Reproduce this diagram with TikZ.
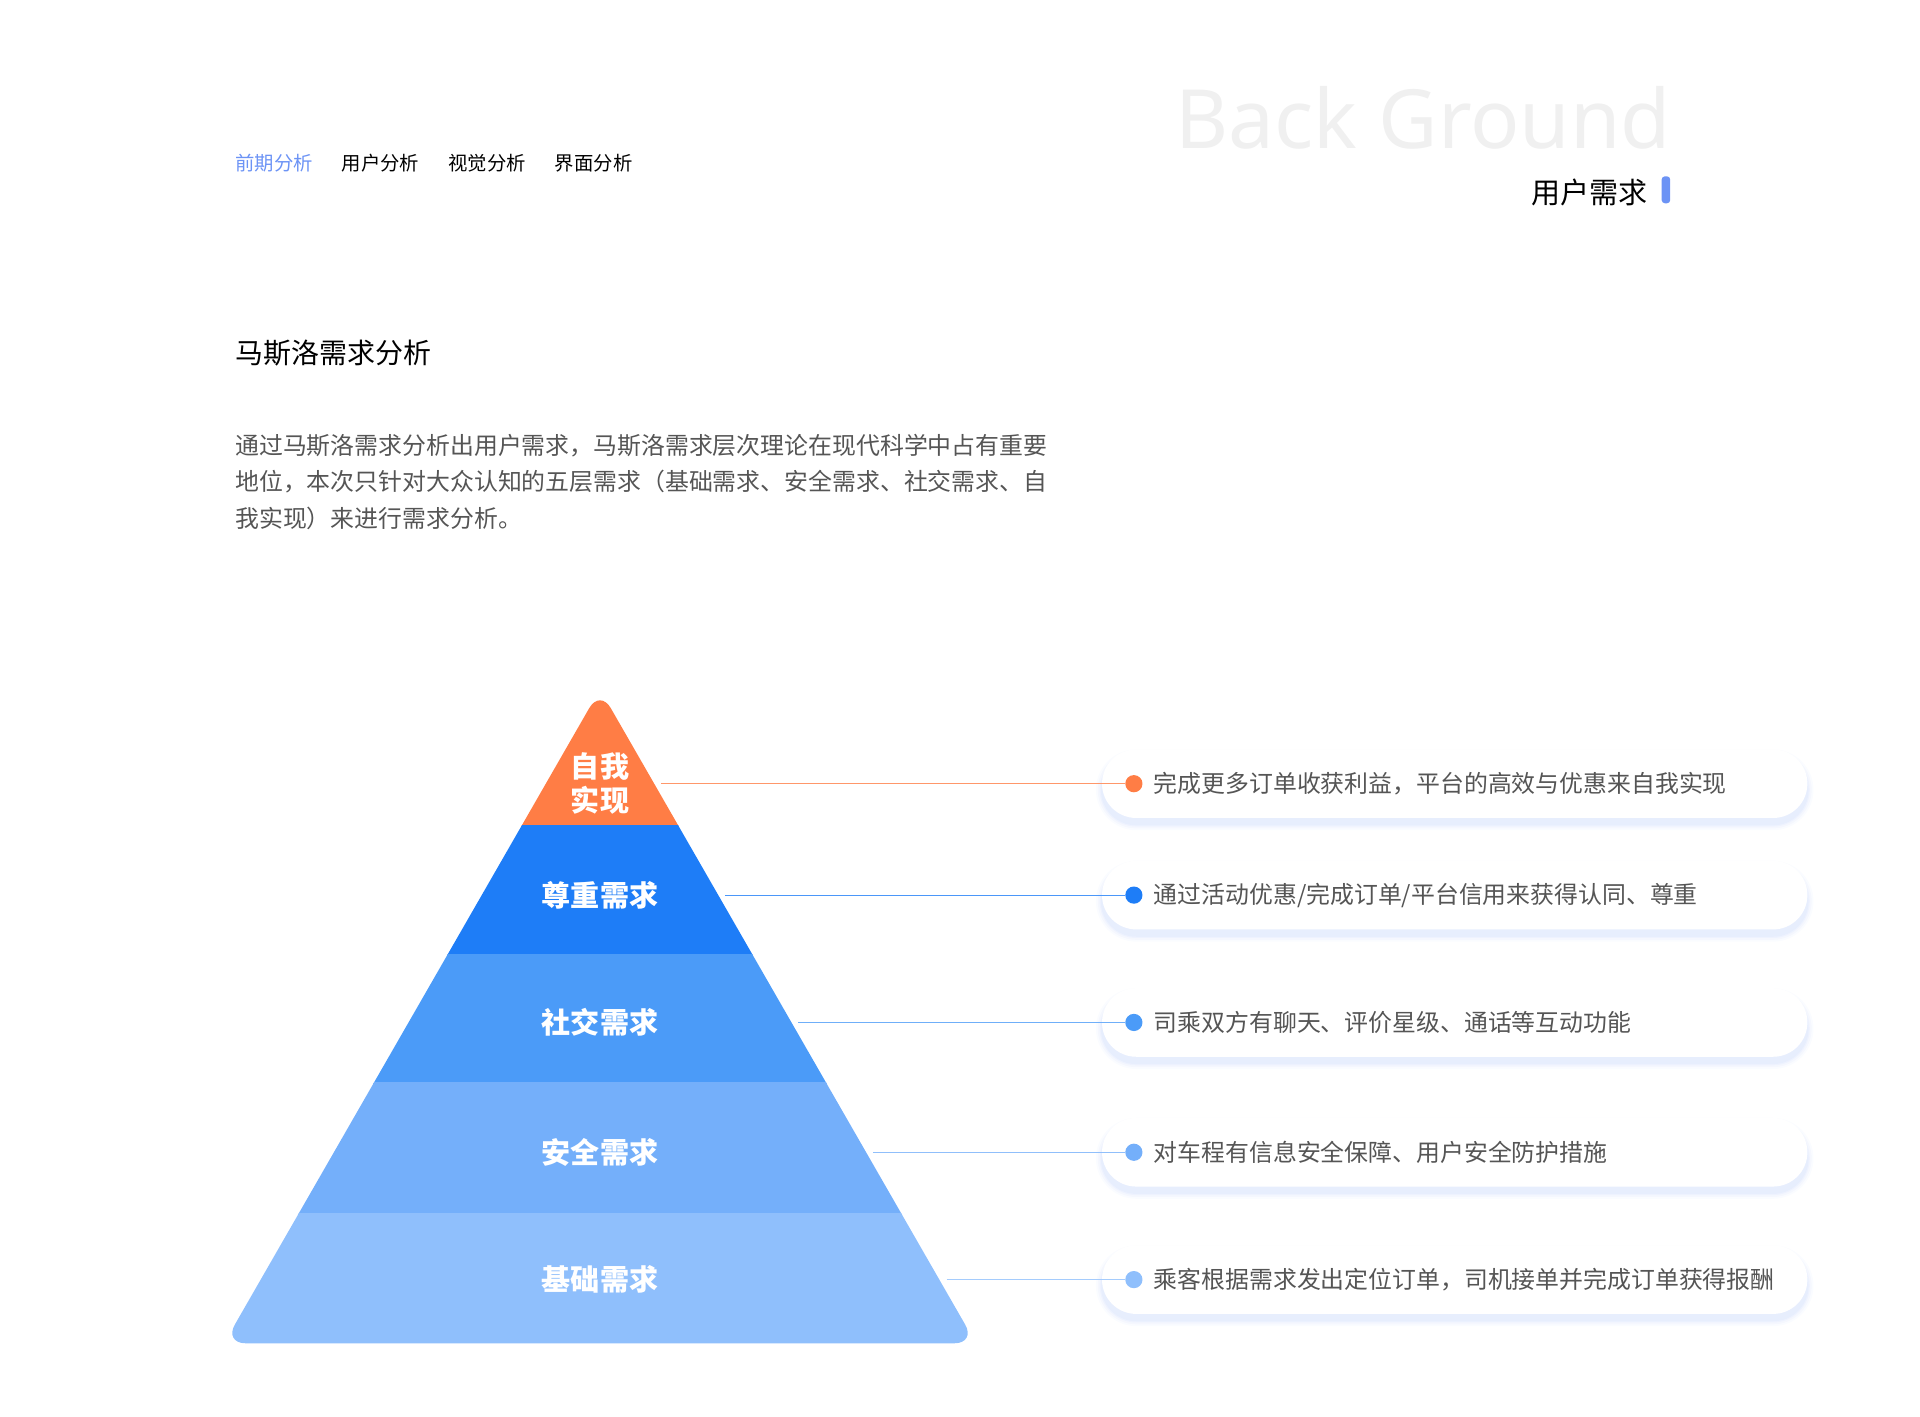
\documentclass[tikz,border=0pt]{standalone}
\usepackage{fontspec}
\setmainfont{Noto Sans CJK SC}
\newfontfamily\latinsans{Noto Sans}
\usetikzlibrary{calc}
\definecolor{accent}{HTML}{6C93F5}
\definecolor{txtgray}{HTML}{555555}
\definecolor{lvlA}{HTML}{FF7D45}
\definecolor{lvlB}{HTML}{1E7DF7}
\definecolor{lvlC}{HTML}{4B9BF8}
\definecolor{lvlD}{HTML}{74AFFA}
\definecolor{lvlE}{HTML}{8FBFFC}
\tikzset{
  navtext/.style={anchor=west, font=\fontsize{9}{11}\selectfont},
  lvltext/.style={text=white, font=\bfseries\fontsize{13.5}{16}\selectfont, align=center},
  notetext/.style={anchor=west, text=txtgray, font=\fontsize{11.1}{13}\selectfont},
}
\begin{document}
\begin{tikzpicture}[x=0.02cm, y=-0.02cm]
    % Canvas
    \useasboundingbox (0,0) rectangle (1568,1157);
    % Header
    \node[navtext, text=accent] (nav1) at (186,133) {前期分析};
    \node[navtext] (nav2) at (273,133) {用户分析};
    \node[navtext] (nav3) at (360,133) {视觉分析};
    \node[navtext] (nav4) at (447,133) {界面分析};
    \node[anchor=east, text=black!6, font=\latinsans\fontsize{38}{44}\selectfont] (bg) at (1371,96) {Back Ground};
    \node[anchor=east, font=\fontsize{13.5}{16}\selectfont] (sub) at (1352,157) {用户需求};
    \fill[accent, rounded corners=1.5pt] (1357,144) rectangle (1364,166);
    % Intro
    \node[anchor=west, font=\fontsize{13}{15}\selectfont] (title) at (186,288) {马斯洛需求分析};
    \node[anchor=north west, text=txtgray, align=left, font=\fontsize{11.1}{17}\selectfont] (intro) at (186,348)
      {通过马斯洛需求分析出用户需求，马斯洛需求层次理论在现代科学中占有重要\\
       地位，本次只针对大众认知的五层需求（基础需求、安全需求、社交需求、自\\
       我实现）来进行需求分析。};
    % Pyramid
    \begin{scope}
      \clip[rounded corners=10pt] (490,563) -- (797,1097) -- (183,1097) -- cycle;
      \fill[lvlA] (180,560) rectangle (800,675);
      \fill[lvlB] (180,674) rectangle (800,780);
      \fill[lvlC] (180,779) rectangle (800,885);
      \fill[lvlD] (180,884) rectangle (800,992);
      \fill[lvlE] (180,991) rectangle (800,1100);
    \end{scope}
    % Levels with notes
    \foreach \y/\lbl/\clr/\ex/\note [count=\i] in {
        640/{自我\\实现}/lvlA/540/{完成更多订单收获利益，平台的高效与优惠来自我实现},
        731/{尊重需求}/lvlB/592/{通过活动优惠/完成订单/平台信用来获得认同、尊重},
        835/{社交需求}/lvlC/652/{司乘双方有聊天、评价星级、通话等互动功能},
        941/{安全需求}/lvlD/713/{对车程有信息安全保障、用户安全防护措施},
        1045/{基础需求}/lvlE/773/{乘客根据需求发出定位订单，司机接单并完成订单获得报酬}
    } {
        % soft shadow
        \foreach \s/\o in {10/0.03,7/0.04,4/0.05,2/0.05}
          \fill[accent, opacity=\o, rounded corners={(28+\s/2)*0.569pt}] (900-\s/2,\y-28+5-\s/2) rectangle (1476+\s/2,\y+28+5+\s/2);
        \fill[white, rounded corners=15.9pt] (900,\y-28) rectangle (1476,\y+28);
        \node[lvltext] (lvl\i) at (490,\y) {\lbl};
        \coordinate (edge\i) at (\ex,\y);
        \node[circle, fill=\clr, inner sep=0pt, minimum size=8pt] (dot\i) at (926,\y) {};
        \draw[\clr!80, line width=0.5pt] (edge\i) -- (dot\i);
        \node[notetext] (note\i) at (936,\y) {\note};
    }
\end{tikzpicture}
\end{document}
